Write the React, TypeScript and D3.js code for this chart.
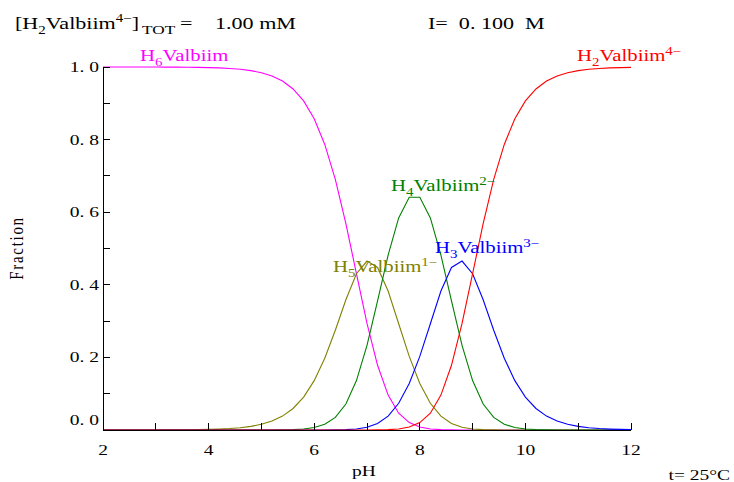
import React from "react";
import * as d3 from "d3";

// pH grid of the speciation curves
const pHValues = [
  2.0, 2.2, 2.4, 2.6, 2.8, 3.0, 3.2, 3.4, 3.6, 3.8,
  4.0, 4.2, 4.4, 4.6, 4.8, 5.0, 5.2, 5.4, 5.6, 5.8,
  6.0, 6.2, 6.4, 6.6, 6.8, 7.0, 7.2, 7.4, 7.6, 7.8,
  8.0, 8.2, 8.4, 8.6, 8.8, 9.0, 9.2, 9.4, 9.6, 9.8,
  10.0, 10.2, 10.4, 10.6, 10.8, 11.0, 11.2, 11.4, 11.6, 11.8, 12.0,
];

// Fraction of each species along the pH grid
const fracH6 = [
  1.0, 1.0, 1.0, 0.9999, 0.9999, 0.9998, 0.9997, 0.9996, 0.9994, 0.999,
  0.9984, 0.9975, 0.996, 0.9937, 0.9901, 0.9843, 0.9753, 0.9612, 0.9395, 0.9065,
  0.8573, 0.7866, 0.6903, 0.5687, 0.4306, 0.2937, 0.1783, 0.0961, 0.0464, 0.0203,
  0.0081, 0.0029, 0.001, 0.0003, 0.0001, 0, 0, 0, 0, 0,
  0, 0, 0, 0, 0, 0, 0, 0, 0, 0, 0,
];
const fracH5 = [
  0, 0, 0, 0.0001, 0.0001, 0.0002, 0.0003, 0.0004, 0.0006, 0.001,
  0.0016, 0.0025, 0.004, 0.0063, 0.0099, 0.0156, 0.0245, 0.0383, 0.0593, 0.0906,
  0.1359, 0.1976, 0.2748, 0.3588, 0.4306, 0.4655, 0.4479, 0.3828, 0.2928, 0.2027,
  0.1279, 0.0736, 0.0383, 0.0178, 0.0074, 0.0027, 0.0009, 0.0003, 0.0001, 0,
  0, 0, 0, 0, 0, 0, 0, 0, 0, 0, 0,
];
const fracH4 = [
  0, 0, 0, 0, 0, 0, 0, 0, 0, 0,
  0, 0, 0, 0, 0, 0.0001, 0.0002, 0.0005, 0.0012, 0.0029,
  0.0068, 0.0157, 0.0346, 0.0716, 0.1361, 0.2333, 0.3557, 0.4819, 0.5843, 0.641,
  0.641, 0.5843, 0.4819, 0.3557, 0.2333, 0.1361, 0.0716, 0.0346, 0.0157, 0.0068,
  0.0029, 0.0012, 0.0005, 0.0002, 0.0001, 0, 0, 0, 0, 0, 0,
];
const fracH3 = [
  0, 0, 0, 0, 0, 0, 0, 0, 0, 0,
  0, 0, 0, 0, 0, 0, 0, 0, 0, 0,
  0, 0.0001, 0.0003, 0.0009, 0.0027, 0.0074, 0.0178, 0.0383, 0.0736, 0.1279,
  0.2027, 0.2928, 0.3828, 0.4479, 0.4655, 0.4306, 0.3588, 0.2748, 0.1976, 0.1359,
  0.0906, 0.0593, 0.0383, 0.0245, 0.0156, 0.0099, 0.0063, 0.004, 0.0025, 0.0016, 0.001,
];
const fracH2 = [
  0, 0, 0, 0, 0, 0, 0, 0, 0, 0,
  0, 0, 0, 0, 0, 0, 0, 0, 0, 0,
  0, 0, 0, 0, 0, 0.0001, 0.0003, 0.001, 0.0029, 0.0081,
  0.0203, 0.0464, 0.0961, 0.1783, 0.2937, 0.4306, 0.5687, 0.6903, 0.7866, 0.8573,
  0.9065, 0.9395, 0.9612, 0.9753, 0.9843, 0.9901, 0.9937, 0.996, 0.9975, 0.9984, 0.999,
];

const xTickValues = [2, 3, 4, 5, 6, 7, 8, 9, 10, 11, 12];
const xTickLabels = ["2", "", "4", "", "6", "", "8", "", "10", "", "12"];
const yTickValues = [0, 0.1, 0.2, 0.3, 0.4, 0.5, 0.6, 0.7, 0.8, 0.9, 1.0];
const yTickLabels = ["0. 0", "", "0. 2", "", "0. 4", "", "0. 6", "", "0. 8", "", "1. 0"];

type Part = { t: string; k?: "sub" | "sup" };

const species: { data: number[]; color: string; label: Part[]; lx: number; ly: number }[] = [
  { data: fracH6, color: "#ff00ff", label: [{ t: "H" }, { t: "6", k: "sub" }, { t: "Valbiim" }], lx: 140, ly: 61 },
  { data: fracH5, color: "#808000", label: [{ t: "H" }, { t: "5", k: "sub" }, { t: "Valbiim" }, { t: "1−", k: "sup" }], lx: 333, ly: 272 },
  { data: fracH4, color: "#008000", label: [{ t: "H" }, { t: "4", k: "sub" }, { t: "Valbiim" }, { t: "2−", k: "sup" }], lx: 391, ly: 191 },
  { data: fracH3, color: "#0000ff", label: [{ t: "H" }, { t: "3", k: "sub" }, { t: "Valbiim" }, { t: "3−", k: "sup" }], lx: 435, ly: 253 },
  { data: fracH2, color: "#ff0000", label: [{ t: "H" }, { t: "2", k: "sub" }, { t: "Valbiim" }, { t: "4−", k: "sup" }], lx: 577, ly: 61 },
];

const FONT = "'Liberation Serif', 'Times New Roman', serif";
const STRETCH = 1.3;

function RichText({
  x, y, parts, size, fill = "#000", anchor = "start", small = 0.72,
}: { x: number; y: number; parts: Part[]; size: number; fill?: string; anchor?: string; small?: number }) {
  let shift = 0;
  return (
    <g transform={`translate(${x},${y}) scale(${STRETCH},1)`}>
      <text x={0} y={0} fontFamily={FONT} fontSize={size} fill={fill} textAnchor={anchor} xmlSpace="preserve">
        {parts.map((p, i) => {
          const target = p.k === "sub" ? size * 0.3 : p.k === "sup" ? -size * 0.4 : 0;
          const dy = target - shift;
          shift = target;
          return (
            <tspan key={i} dy={dy} fontSize={p.k ? size * small : size}>
              {p.t}
            </tspan>
          );
        })}
      </text>
    </g>
  );
}

export default function App() {
  const W = 734;
  const H = 482;
  const x = d3.scaleLinear().domain([2, 12]).range([103, 631]);
  const y = d3.scaleLinear().domain([0, 1]).range([430, 67]);
  const line = d3
    .line<number>()
    .x((_, i) => x(pHValues[i]))
    .y((d) => y(d));

  const tickLen = 7;

  return (
    <svg width={W} height={H} style={{ position: "absolute", left: 0, top: 0, background: "#fff" }}>
      <rect x={0} y={0} width={W} height={H} fill="#fff" />

      {/* header */}
      <RichText
        x={15}
        y={29}
        size={17}
        small={0.68}
        parts={[{ t: "[H" }, { t: "2", k: "sub" }, { t: "Valbiim" }, { t: "4−", k: "sup" }, { t: "]" }]}
      />
      <RichText x={142} y={29} size={17} small={0.78} parts={[{ t: "TOT", k: "sub" }]} />
      <RichText x={180} y={29} size={17} parts={[{ t: "=" }]} />
      <RichText x={215} y={29} size={17} parts={[{ t: "1.00 mM" }]} />
      <RichText x={428} y={29} size={17} parts={[{ t: "I=  0. 100  M" }]} />

      {/* curves */}
      {species.map((s, i) => (
        <path key={i} d={line(s.data) ?? ""} fill="none" stroke={s.color} strokeWidth={1.1} />
      ))}

      {/* axes */}
      <g stroke="#000" strokeWidth={1} shapeRendering="crispEdges">
        <line x1={x(2)} x2={x(12)} y1={y(0)} y2={y(0)} />
        <line x1={x(2)} x2={x(2)} y1={y(0)} y2={y(1)} />
        {xTickValues.map((v) => (
          <line key={`xt${v}`} x1={x(v)} x2={x(v)} y1={y(0)} y2={y(0) - tickLen} />
        ))}
        {yTickValues.map((v) => (
          <line key={`yt${v}`} x1={x(2)} x2={x(2) + tickLen} y1={y(v)} y2={y(v)} />
        ))}
      </g>

      {/* tick labels */}
      {xTickValues.map((v, i) =>
        xTickLabels[i] ? (
          <RichText key={`xl${v}`} x={x(v)} y={455} size={15} anchor="middle" parts={[{ t: xTickLabels[i] }]} />
        ) : null
      )}
      {yTickValues.map((v, i) =>
        yTickLabels[i] ? (
          <RichText
            key={`yl${v}`}
            x={99}
            y={v === 0 ? y(v) - 5 : y(v) + 5}
            size={15}
            anchor="end"
            parts={[{ t: yTickLabels[i] }]}
          />
        ) : null
      )}

      {/* axis titles */}
      <RichText x={364} y={476} size={15} anchor="middle" parts={[{ t: "pH" }]} />
      <g transform={`translate(23,248) scale(${STRETCH},1) rotate(-90)`}>
        <text x={0} y={0} fontFamily={FONT} fontSize={15} textAnchor="middle" letterSpacing={1.7}>
          Fraction
        </text>
      </g>
      <RichText x={730} y={480} size={15} anchor="end" parts={[{ t: "t= 25°C" }]} />

      {/* species labels */}
      {species.map((s, i) => (
        <RichText key={`sl${i}`} x={s.lx} y={s.ly} size={16} fill={s.color} parts={s.label} />
      ))}
    </svg>
  );
}
